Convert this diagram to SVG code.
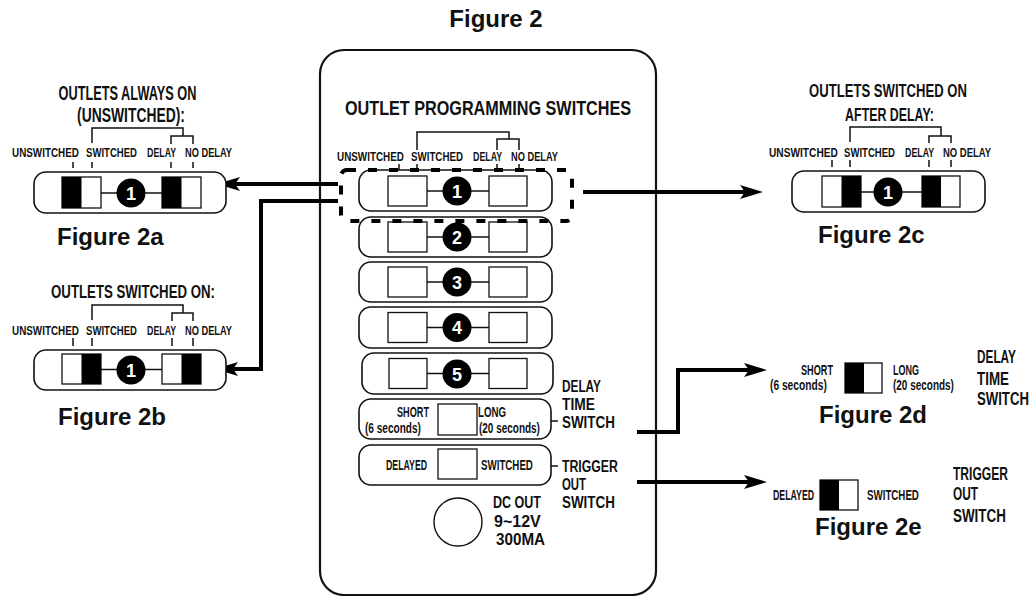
<svg xmlns="http://www.w3.org/2000/svg" width="1034" height="596" viewBox="0 0 1034 596">
<defs>
<style>
.t{font-family:"Liberation Sans",Arial,sans-serif;font-weight:bold;fill:#111}
.lbl{font-size:13px}
.side{font-size:18px}
.side2{font-size:16px}
.sm{font-size:14px}
.fig{font-size:24px}
.num{font-family:"Liberation Sans",Arial,sans-serif;font-weight:bold;font-size:18px;fill:#fff;text-anchor:middle}
.mid{text-anchor:middle}
.row{fill:#fff;stroke:#111;stroke-width:1.6}
.sw{fill:#fff;stroke:#111;stroke-width:1.3}
.blk{fill:#000}
.thin{stroke:#111;stroke-width:1.5;fill:none}
.conn{stroke:#000;stroke-width:4;fill:none;marker-end:url(#arr)}
.dot{fill:#000}
</style>
<marker id="arr" viewBox="-12 -8 26 16" markerWidth="26" markerHeight="16" refX="0" refY="0" orient="auto" markerUnits="userSpaceOnUse">
<path d="M12,0 L-11,-7 L-6,0 L-11,7 Z" fill="#000"/>
</marker>
</defs>
<rect width="1034" height="596" fill="#fff"/>

<text class="t fig mid" x="496" y="27">Figure 2</text>

<g id="panel">
<rect x="320" y="50" width="336" height="545" rx="24" fill="none" stroke="#111" stroke-width="2.2"/>
<text class="t mid" font-size="21" transform="translate(488,115) scale(0.771,1)">OUTLET PROGRAMMING SWITCHES</text>
<path class="thin" d="M417,150 V132 H509 V139 M497,150 V139 H519 V150 M399,164 V170 M417,164 V170 M497,164 V170 M519,164 V170"/>
<text class="t lbl" transform="translate(337,161) scale(0.76,1)">UNSWITCHED</text>
<text class="t lbl" transform="translate(411,161) scale(0.75,1)">SWITCHED</text>
<text class="t lbl" transform="translate(473,161) scale(0.68,1)">DELAY</text>
<text class="t lbl" transform="translate(511,161) scale(0.714,1)">NO DELAY</text>
</g>

<g id="outlet1">
<rect class="row" x="359" y="170" width="193" height="41" rx="12"/>
<path class="thin" d="M427,191 H489"/>
<rect class="sw" x="388" y="176" width="39" height="30"/>
<rect class="sw" x="489" y="176" width="38" height="30"/>
<circle class="dot" cx="457" cy="191" r="14.5"/>
<text class="num" x="457" y="197.5">1</text>
</g>
<g id="outlet2">
<rect class="row" x="359" y="217" width="193" height="40" rx="12"/>
<path class="thin" d="M427,237 H489"/>
<rect class="sw" x="388" y="222" width="39" height="30"/>
<rect class="sw" x="489" y="222" width="38" height="30"/>
<circle class="dot" cx="457" cy="237" r="14.5"/>
<text class="num" x="457" y="243.5">2</text>
</g>
<g id="outlet3">
<rect class="row" x="359" y="262" width="193" height="40" rx="12"/>
<path class="thin" d="M427,282 H489"/>
<rect class="sw" x="388" y="267" width="39" height="30"/>
<rect class="sw" x="489" y="267" width="38" height="30"/>
<circle class="dot" cx="457" cy="282" r="14.5"/>
<text class="num" x="457" y="288.5">3</text>
</g>
<g id="outlet4">
<rect class="row" x="359" y="307" width="193" height="41" rx="12"/>
<path class="thin" d="M427,327.5 H489"/>
<rect class="sw" x="388" y="312.5" width="39" height="30"/>
<rect class="sw" x="489" y="312.5" width="38" height="30"/>
<circle class="dot" cx="457" cy="327.5" r="14.5"/>
<text class="num" x="457" y="334">4</text>
</g>
<g id="outlet5">
<rect class="row" x="362" y="353" width="191" height="41" rx="12"/>
<path class="thin" d="M427,373.5 H489"/>
<rect class="sw" x="389" y="358.5" width="38" height="30"/>
<rect class="sw" x="489" y="358.5" width="38" height="30"/>
<circle class="dot" cx="457" cy="374" r="14.5"/>
<text class="num" x="457" y="380.5">5</text>
</g>

<g id="delay-switch">
<rect class="row" x="359" y="399" width="192" height="40" rx="12"/>
<rect class="sw" x="438" y="404" width="39" height="31"/>
<text class="t sm" transform="translate(397,417) scale(0.653,1)">SHORT</text>
<text class="t sm" transform="translate(365,433) scale(0.719,1)">(6 seconds)</text>
<text class="t sm" transform="translate(478,417) scale(0.693,1)">LONG</text>
<text class="t sm" transform="translate(479,433) scale(0.713,1)">(20 seconds)</text>
<path class="thin" d="M551,421 H558"/>
<text class="t side2" transform="translate(562,392) scale(0.738,1)">DELAY</text>
<text class="t side2" transform="translate(562,410) scale(0.863,1)">TIME</text>
<text class="t side2" transform="translate(562,428) scale(0.839,1)">SWITCH</text>
</g>

<g id="trigger-switch">
<rect class="row" x="359" y="445" width="192" height="40" rx="12"/>
<rect class="sw" x="438" y="449" width="39" height="30"/>
<text class="t sm" transform="translate(386,470) scale(0.628,1)">DELAYED</text>
<text class="t sm" transform="translate(481,470) scale(0.696,1)">SWITCHED</text>
<path class="thin" d="M551,466 H558"/>
<text class="t side2" transform="translate(562,472) scale(0.768,1)">TRIGGER</text>
<text class="t side2" transform="translate(562,490) scale(0.711,1)">OUT</text>
<text class="t side2" transform="translate(562,508) scale(0.839,1)">SWITCH</text>
</g>

<g id="dc-out">
<circle cx="458" cy="522" r="24" fill="#fff" stroke="#111" stroke-width="1.4"/>
<text class="t side2" transform="translate(493,508) scale(0.783,1)">DC OUT</text>
<text class="t side2" transform="translate(494,527) scale(1.0,1)">9~12V</text>
<text class="t side2" transform="translate(496,545) scale(0.951,1)">300MA</text>
</g>

<g id="selection">
<rect x="341" y="170" width="231" height="51" rx="6" fill="none" stroke="#000" stroke-width="4" stroke-dasharray="9 12"/>
</g>

<g id="connectors">
<path class="conn" d="M338,184 H229"/>
<path class="conn" d="M338,201 H261 V369 H227"/>
<path class="conn" d="M583,192 H751"/>
<path class="conn" d="M637,432 H678 V370 H755"/>
<path class="conn" d="M637,482 H755"/>
</g>

<g id="fig2a">
<text class="t mid" font-size="20" transform="translate(127.5,100) scale(0.638,1)">OUTLETS ALWAYS ON</text>
<text class="t mid" font-size="20" transform="translate(131,122) scale(0.694,1)">(UNSWITCHED):</text>
<path class="thin" d="M92,143 V128 H183 V136 M171,144 V136 H193 V144 M73,162 V168 M92,162 V168 M171,162 V168 M193,162 V168"/>
<text class="t lbl" transform="translate(12,157) scale(0.76,1)">UNSWITCHED</text>
<text class="t lbl" transform="translate(86,157) scale(0.736,1)">SWITCHED</text>
<text class="t lbl" transform="translate(147,157) scale(0.68,1)">DELAY</text>
<text class="t lbl" transform="translate(185,157) scale(0.714,1)">NO DELAY</text>
<rect class="row" x="34" y="172" width="192" height="41" rx="12"/>
<path class="thin" d="M101,193 H162"/>
<rect class="sw" x="62" y="177" width="39" height="31"/>
<rect class="blk" x="62" y="177" width="19.5" height="31"/>
<rect class="sw" x="162" y="177" width="39" height="31"/>
<rect class="blk" x="162" y="177" width="19.5" height="31"/>
<circle class="dot" cx="131" cy="193" r="14.5"/>
<text class="num" x="131" y="199.5">1</text>
<text class="t fig" x="57" y="245">Figure 2a</text>
</g>

<g id="fig2b">
<text class="t mid" font-size="19" transform="translate(133,298) scale(0.697,1)">OUTLETS SWITCHED ON:</text>
<path class="thin" d="M92,320 V305 H183 V313 M172,321 V313 H193 V321 M73,338 V346 M92,338 V346 M172,338 V346 M193,338 V346"/>
<text class="t lbl" transform="translate(12,335) scale(0.76,1)">UNSWITCHED</text>
<text class="t lbl" transform="translate(86,335) scale(0.736,1)">SWITCHED</text>
<text class="t lbl" transform="translate(147,335) scale(0.68,1)">DELAY</text>
<text class="t lbl" transform="translate(185,335) scale(0.714,1)">NO DELAY</text>
<rect class="row" x="34" y="350" width="192" height="40" rx="12"/>
<path class="thin" d="M101,369.5 H162"/>
<rect class="sw" x="62" y="354" width="39" height="30"/>
<rect class="blk" x="81.5" y="354" width="19.5" height="30"/>
<rect class="sw" x="162" y="354" width="39" height="30"/>
<rect class="blk" x="181.5" y="354" width="19.5" height="30"/>
<circle class="dot" cx="131" cy="370" r="14.5"/>
<text class="num" x="131" y="376.5">1</text>
<text class="t fig" x="58" y="425">Figure 2b</text>
</g>

<g id="fig2c">
<text class="t mid" font-size="18" transform="translate(888,97) scale(0.728,1)">OUTLETS SWITCHED ON</text>
<text class="t mid" font-size="18" transform="translate(889.5,121) scale(0.689,1)">AFTER DELAY:</text>
<path class="thin" d="M850,142 V127 H941 V136 M929,143 V136 H951 V143 M832,160 V167 M850,160 V167 M929,160 V167 M951,160 V167"/>
<text class="t lbl" transform="translate(769,157) scale(0.783,1)">UNSWITCHED</text>
<text class="t lbl" transform="translate(844,157) scale(0.736,1)">SWITCHED</text>
<text class="t lbl" transform="translate(905,157) scale(0.68,1)">DELAY</text>
<text class="t lbl" transform="translate(943,157) scale(0.729,1)">NO DELAY</text>
<rect class="row" x="792" y="171" width="193" height="41" rx="12"/>
<path class="thin" d="M861,192 H922"/>
<rect class="sw" x="822" y="176" width="39" height="31"/>
<rect class="blk" x="841.5" y="176" width="19.5" height="31"/>
<rect class="sw" x="922" y="176" width="38" height="31"/>
<rect class="blk" x="922" y="176" width="19" height="31"/>
<circle class="dot" cx="888" cy="192" r="14.5"/>
<text class="num" x="888" y="198.5">1</text>
<text class="t fig" x="818" y="243">Figure 2c</text>
</g>

<g id="fig2d">
<text class="t sm" transform="translate(801,375) scale(0.653,1)">SHORT</text>
<text class="t sm" transform="translate(770,390) scale(0.731,1)">(6 seconds)</text>
<rect class="sw" x="845" y="363" width="37" height="30"/>
<rect class="blk" x="845" y="363" width="19" height="30"/>
<text class="t sm" transform="translate(893,375) scale(0.643,1)">LONG</text>
<text class="t sm" transform="translate(893,390) scale(0.713,1)">(20 seconds)</text>
<text class="t fig" x="819" y="423">Figure 2d</text>
<text class="t side" transform="translate(977,363) scale(0.656,1)">DELAY</text>
<text class="t side" transform="translate(977,385) scale(0.744,1)">TIME</text>
<text class="t side" transform="translate(977,405) scale(0.732,1)">SWITCH</text>
</g>

<g id="fig2e">
<text class="t sm" transform="translate(773,500) scale(0.628,1)">DELAYED</text>
<rect class="sw" x="820" y="480" width="38" height="30"/>
<rect class="blk" x="820" y="480" width="19" height="30"/>
<text class="t sm" transform="translate(867,500) scale(0.696,1)">SWITCHED</text>
<text class="t fig" x="815" y="535">Figure 2e</text>
<text class="t side" transform="translate(953,480) scale(0.671,1)">TRIGGER</text>
<text class="t side" transform="translate(953,500) scale(0.658,1)">OUT</text>
<text class="t side" transform="translate(953,522) scale(0.746,1)">SWITCH</text>
</g>
</svg>
